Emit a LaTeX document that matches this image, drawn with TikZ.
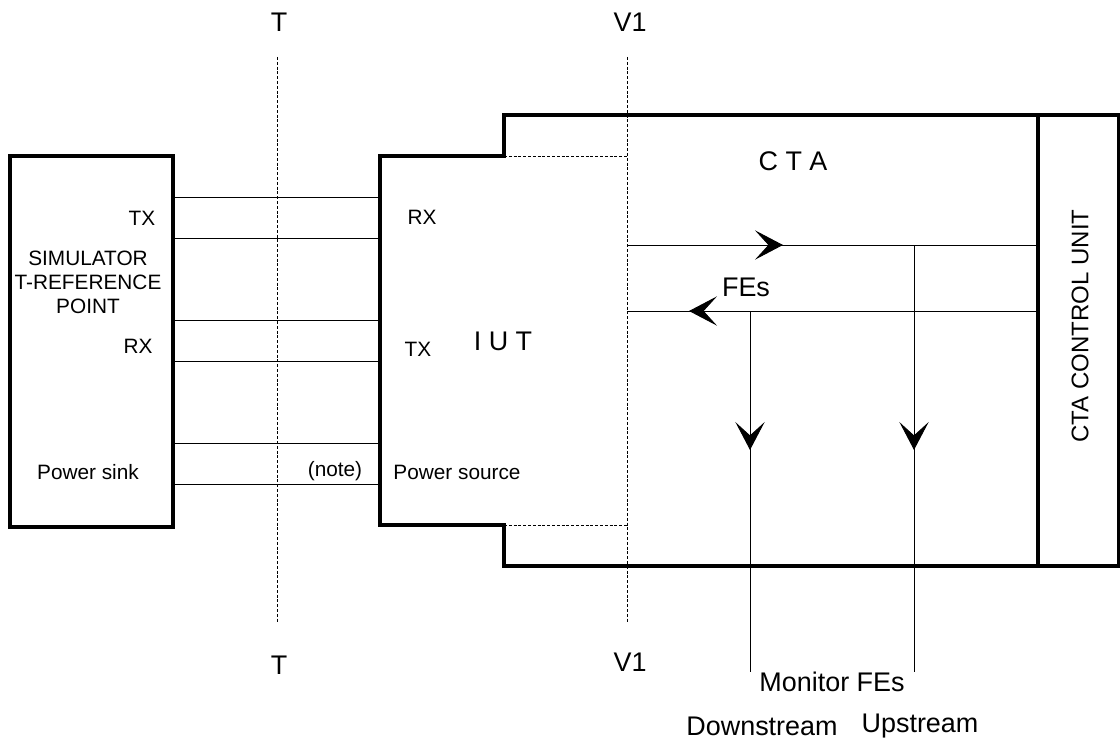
\documentclass[tikz,border=0pt]{standalone}
\usepackage{fontspec}
\setmainfont{Liberation Sans}
\usetikzlibrary{arrows.meta}
\tikzset{
  box/.style   = {draw, line width=3pt, line join=miter},
  wire/.style  = {draw, line width=0.7pt},
  refline/.style = {draw, line width=0.6pt, dash pattern=on 2.2pt off 1.4pt},
  flow/.style  = {wire, -{Stealth[length=21pt, width=22pt, inset=10pt]}},
  lbl/.style   = {inner sep=0pt, font=\fontsize{15.6}{18}\selectfont},
  big/.style   = {inner sep=0pt, font=\fontsize{20.2}{23}\selectfont}
}

\begin{document}
\begin{tikzpicture}[x=0.75pt, y=-0.75pt]
\useasboundingbox (0,0) rectangle (1120,742);

% reference points T and V1
\coordinate (Ttop) at (277,57);
\coordinate (Tbot) at (277,623);
\coordinate (Vtop) at (627,57);
\coordinate (Vbot) at (627,623);
\draw[refline] (Ttop) -- (Tbot);
\draw[refline] (Vtop) -- (Vbot);
\node[big] (tUp)  at (279,22)  {T};
\node[big] (tDn)  at (279,665) {T};
\node[big] (vUp)  at (630,22)  {V1};
\node[big] (vDn)  at (630,662) {V1};

% simulator
\coordinate (simNW) at (10,156);
\coordinate (simSE) at (173,527);
\draw[box] (simNW) rectangle (simSE);

% IUT + CTA outline
\coordinate (iutNW) at (380,156);
\coordinate (stepN) at (504,156);
\coordinate (stepS) at (504,525);
\coordinate (iutSW) at (380,525);
\coordinate (ctaNW) at (504,115);
\coordinate (ctaNE) at (1119,115);
\coordinate (ctaSE) at (1119,566);
\coordinate (ctaSW) at (504,566);
\draw[box] (iutNW) -- (stepN) -- (ctaNW) -- (ctaNE) -- (ctaSE)
  -- (ctaSW) -- (stepS) -- (iutSW) -- cycle;
\draw[refline] (stepN) -- (stepN -| Vtop);
\draw[refline] (stepS) -- (stepS -| Vtop);

% control unit
\coordinate (cuN) at (1038,115);
\coordinate (cuS) at (1038,566);
\draw[box] (cuN) -- (cuS);

% wires at the T interface
\foreach \y in {197,238,320,361,443,484}
  \draw[wire] (simSE |- 0,\y) -- (iutNW |- 0,\y);

% FE flows
\coordinate (upL)   at (627,245);
\coordinate (upR)   at (1038,245);
\coordinate (upTip) at (783,245);
\coordinate (dnR)   at (1038,311);
\coordinate (dnL)   at (627,311);
\coordinate (dnTip) at (689,311);
\draw[wire] (upL) -- (upR);
\draw[flow] (upL) -- (upTip);
\draw[wire] (dnR) -- (dnL);
\draw[flow] (dnR) -- (dnTip);

% monitor taps
\coordinate (mDs)    at (750,311);
\coordinate (mDsEnd) at (750,672);
\coordinate (mDsTip) at (750,450);
\coordinate (mUs)    at (914,245);
\coordinate (mUsEnd) at (914,672);
\coordinate (mUsTip) at (914,450);
\draw[wire] (mDs) -- (mDsEnd);
\draw[flow] (mDs) -- (mDsTip);
\draw[wire] (mUs) -- (mUsEnd);
\draw[flow] (mUs) -- (mUsTip);

% labels
\node[lbl] (simTx)  at (142,218) {TX};
\node[lbl, align=center] (simName) at (88,282) {SIMULATOR\\T-REFERENCE\\POINT};
\node[lbl] (simRx)  at (138,346) {RX};
\node[lbl] (sink)   at (88,472)  {Power sink};
\node[lbl] (note)   at (335,471) {(note)};
\node[lbl] (iutRx)  at (422,217) {RX};
\node[lbl] (iutTx)  at (418,349) {TX};
\node[big] (iut)    at (503,341) {I U T};
\node[lbl] (source) at (457,472) {Power source};
\node[big] (cta)    at (793,161) {C T A};
\node[big] (fes)    at (746,287) {FEs};
\node[inner sep=0pt, font=\fontsize{18}{21}\selectfont, rotate=90] (cu) at (1080,326) {CTA CONTROL UNIT};
\node[big] (mon)    at (832,682) {Monitor FEs};
\node[big] (down)   at (762,726) {Downstream};
\node[big] (up)     at (920,726) {Upstream};
\end{tikzpicture}
\end{document}
